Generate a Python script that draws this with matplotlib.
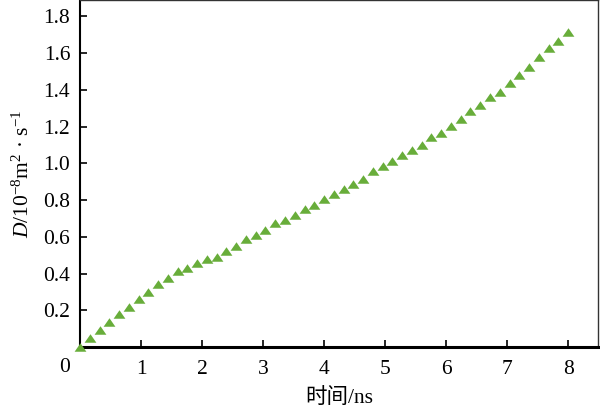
import matplotlib
matplotlib.use("Agg")
import matplotlib.pyplot as plt
from matplotlib import transforms

plt.rcParams['font.family'] = ['Liberation Serif', 'Noto Sans CJK SC']
plt.rcParams['mathtext.fontset'] = 'custom'
plt.rcParams['mathtext.rm'] = 'Liberation Serif'
plt.rcParams['mathtext.it'] = 'Liberation Serif:italic'

# data: time (ns) and diffusion coefficient D (1e-8 m^2/s)
time_ns = [i * 0.16 for i in range(51)]
D_vals = [0.000, 0.051, 0.091, 0.135, 0.178, 0.216, 0.260, 0.300, 0.342, 0.376,
          0.412, 0.432, 0.459, 0.478, 0.492, 0.525, 0.552, 0.587, 0.610, 0.639,
          0.673, 0.694, 0.719, 0.750, 0.776, 0.808, 0.832, 0.859, 0.887, 0.917,
          0.956, 0.983, 1.014, 1.045, 1.074, 1.102, 1.141, 1.168, 1.206, 1.243,
          1.283, 1.320, 1.361, 1.391, 1.435, 1.481, 1.526, 1.577, 1.626, 1.669,
          1.713]
x_ticks = [1, 2, 3, 4, 5, 6, 7, 8]
y_ticks = [0.2, 0.4, 0.6, 0.8, 1.0, 1.2, 1.4, 1.6, 1.8]

fig = plt.figure(figsize=(6.0, 4.09), dpi=100)
ax = fig.add_axes([80/600, 1 - 347/409, 518/600, 346.5/409])

tri = [(-1, -0.72), (1, -0.72), (0, 0.72), (-1, -0.72)]
ax.plot(time_ns, D_vals, linestyle='none', marker=tri, markersize=8.5,
        color='#68ad3a', markeredgewidth=0, clip_on=False, zorder=3)

ax.set_xlim(0, 8.49)
ax.set_ylim(0, 1.887)
ax.set_xticks(x_ticks)
ax.set_xticklabels([str(t) for t in x_ticks])
ax.set_yticks(y_ticks)
ax.set_yticklabels([f"{v:.1f}" for v in y_ticks])

ax.tick_params(direction='in', length=5, width=1.2, labelsize=15.5, color='black')
ax.tick_params(axis='x', pad=9)
ax.tick_params(axis='y', pad=7)

ax.spines['bottom'].set_linewidth(2.2)
ax.spines['left'].set_linewidth(1.5)
ax.spines['top'].set_linewidth(1.0)
ax.spines['right'].set_linewidth(1.0)
ax.spines['top'].set_color('#333333')
ax.spines['right'].set_color('#333333')

# origin label
off = transforms.offset_copy(ax.transData, fig=fig, x=-15, y=-11, units='dots')
ax.text(0, 0, '0', transform=off, fontsize=15.5, ha='center', va='top')

ax.set_xlabel('时间/ns', fontsize=15.5, labelpad=7)
ax.set_ylabel(r'$D$/10$^{-8}$m$^{2}$ · s$^{-1}$', fontsize=15.5, labelpad=7)

fig.savefig('out.png', dpi=100)
